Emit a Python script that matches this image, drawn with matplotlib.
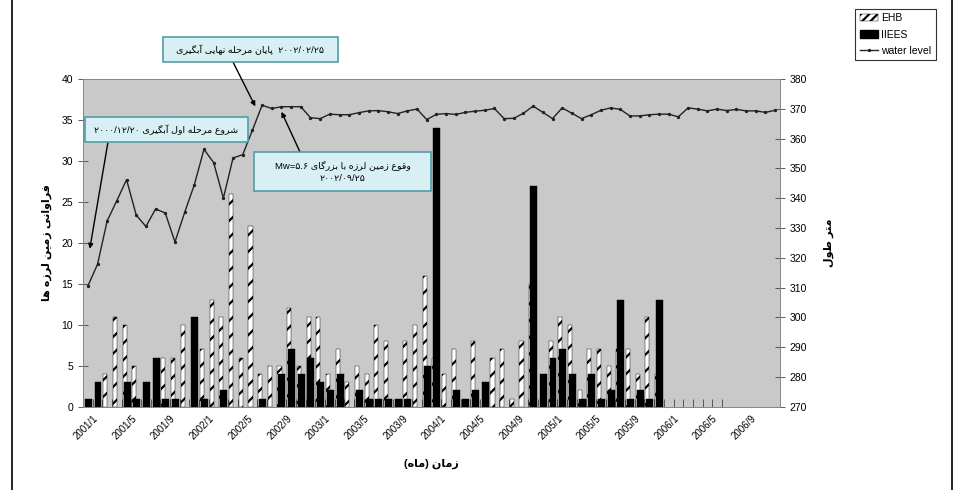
import matplotlib
matplotlib.use('Agg')
import matplotlib.pyplot as plt
import matplotlib.transforms as mtransforms
from matplotlib.patches import Rectangle, Patch
from matplotlib.lines import Line2D

# monthly data, 2001/1 .. 2006/12
n_months = 72
tick_labels = ['2001/1', '2001/5', '2001/9', '2002/1', '2002/5', '2002/9',
               '2003/1', '2003/5', '2003/9', '2004/1', '2004/5', '2004/9',
               '2005/1', '2005/5', '2005/9', '2006/1', '2006/5', '2006/9']

ehb = [0, 0, 4, 11, 10, 5, 0, 0, 6, 6, 10, 0,
       7, 13, 11, 26, 6, 22, 4, 5, 5, 12, 5, 11,
       11, 4, 7, 3, 5, 4, 10, 8, 0, 8, 10, 16,
       6, 4, 7, 0, 8, 0, 6, 7, 1, 8, 15, 0,
       8, 11, 10, 2, 7, 7, 5, 7, 7, 4, 11, 4,
       0, 0, 0, 0, 0, 0, 0, 0, 0, 0, 0, 0]

iiees = [1, 3, 0, 0, 3, 1, 3, 6, 1, 1, 0, 11,
         1, 0, 2, 0, 0, 0, 1, 0, 4, 7, 4, 6,
         3, 2, 4, 0, 2, 1, 1, 1, 1, 1, 0, 5,
         34, 0, 2, 1, 2, 3, 0, 0, 0, 0, 27, 4,
         6, 7, 4, 1, 4, 1, 2, 13, 1, 2, 1, 13,
         0, 0, 0, 0, 0, 0, 0, 0, 0, 0, 0, 0]

water_level = [310.5, 317.8, 332.4, 339.2, 346.2, 334.3, 330.5, 336.4, 335.0, 325.3, 335.2, 344.5,
               356.4, 351.9, 340.0, 353.5, 354.6, 362.8, 371.2, 370.1, 370.7, 370.7, 370.7, 367.0,
               366.7, 368.2, 368.0, 368.0, 368.7, 369.3, 369.4, 369.0, 368.4, 369.3, 369.9, 366.4,
               368.1, 368.4, 368.1, 368.8, 369.2, 369.5, 370.1, 366.7, 366.8, 368.5, 370.9, 368.8,
               366.7, 370.3, 368.5, 366.7, 368.0, 369.5, 370.3, 369.8, 367.6, 367.6, 368.0, 368.2,
               368.2, 367.3, 370.3, 369.9, 369.3, 369.9, 369.4, 369.8, 369.3, 369.3, 368.8, 369.5]

# --- minimal Persian shaping (matplotlib draws glyphs left to right, unjoined) ---
FORMS = {  # isolated, final, initial, medial
    '\u0627': ('\uFE8D', '\uFE8E', None, None),
    '\u0622': ('\uFE81', '\uFE82', None, None),
    '\u0628': ('\uFE8F', '\uFE90', '\uFE91', '\uFE92'),
    '\u067E': ('\uFB56', '\uFB57', '\uFB58', '\uFB59'),
    '\u062A': ('\uFE95', '\uFE96', '\uFE97', '\uFE98'),
    '\u062D': ('\uFEA1', '\uFEA2', '\uFEA3', '\uFEA4'),
    '\u062F': ('\uFEA9', '\uFEAA', None, None),
    '\u0631': ('\uFEAD', '\uFEAE', None, None),
    '\u0632': ('\uFEAF', '\uFEB0', None, None),
    '\u0633': ('\uFEB1', '\uFEB2', '\uFEB3', '\uFEB4'),
    '\u0634': ('\uFEB5', '\uFEB6', '\uFEB7', '\uFEB8'),
    '\u0637': ('\uFEC1', '\uFEC2', '\uFEC3', '\uFEC4'),
    '\u0639': ('\uFEC9', '\uFECA', '\uFECB', '\uFECC'),
    '\u0641': ('\uFED1', '\uFED2', '\uFED3', '\uFED4'),
    '\u0642': ('\uFED5', '\uFED6', '\uFED7', '\uFED8'),
    '\u0644': ('\uFEDD', '\uFEDE', '\uFEDF', '\uFEE0'),
    '\u0645': ('\uFEE1', '\uFEE2', '\uFEE3', '\uFEE4'),
    '\u0646': ('\uFEE5', '\uFEE6', '\uFEE7', '\uFEE8'),
    '\u0647': ('\uFEE9', '\uFEEA', '\uFEEB', '\uFEEC'),
    '\u0648': ('\uFEED', '\uFEEE', None, None),
    '\u06A9': ('\uFB8E', '\uFB8F', '\uFB90', '\uFB91'),
    '\u06AF': ('\uFB92', '\uFB93', '\uFB94', '\uFB95'),
    '\u06CC': ('\uFBFC', '\uFBFD', '\uFBFE', '\uFBFF'),
}
MIRROR = {'(': ')', ')': '('}


def shape_word(w):
    out = []
    for i, ch in enumerate(w):
        if ch not in FORMS:
            out.append(ch)
            continue
        iso, fin, ini, med = FORMS[ch]
        prev = w[i - 1] if i > 0 else ''
        nxt = w[i + 1] if i + 1 < len(w) else ''
        j_prev = prev in FORMS and FORMS[prev][2] is not None
        j_next = nxt in FORMS and ini is not None
        if j_prev and j_next:
            out.append(med)
        elif j_prev:
            out.append(fin)
        elif j_next:
            out.append(ini)
        else:
            out.append(iso)
    return ''.join(out)


def fa(text):
    words = []
    for w in text.split(' '):
        if any(c in FORMS for c in w):
            words.append(''.join(MIRROR.get(c, c) for c in reversed(shape_word(w))))
        else:
            words.append(w)
    return ' '.join(reversed(words))


plt.rcParams['font.family'] = ['Liberation Sans', 'DejaVu Sans']
plt.rcParams['hatch.linewidth'] = 1.6

W, H = 960, 490
fig = plt.figure(figsize=(W / 100, H / 100), dpi=100)
ax = fig.add_axes([83 / W, 1 - 406.7 / H, 697 / W, 327.7 / H])
ax.set_facecolor('#c9c9c9')
ax.set_axisbelow(True)

x = list(range(n_months))
# skip empty months so no outline is left on the axis
ehb_x = [i - 0.2 for i in x if ehb[i] > 0]
ehb_v = [v for v in ehb if v > 0]
iiees_x = [i + 0.05 for i in x if iiees[i] > 0]
iiees_v = [v for v in iiees if v > 0]
ax.bar(ehb_x, ehb_v, width=0.42, color='white', edgecolor='black',
       linewidth=0.3, hatch='//', zorder=2)
ax.bar(iiees_x, iiees_v, width=0.72, color='black', edgecolor='black',
       linewidth=0.3, zorder=3)

ax.set_xlim(-0.5, n_months - 0.5)
ax.set_ylim(0, 40)
ax.set_yticks(range(0, 41, 5))
ax.tick_params(axis='y', direction='inout', length=7, width=0.6, labelsize=7.5,
               colors='#444444', labelcolor='black')
ax.set_xticks(range(0, n_months, 4))
ax.set_xticklabels(tick_labels, rotation=45, ha='right', rotation_mode='anchor', fontsize=7)
ax.tick_params(axis='x', length=0, pad=5)
shift = mtransforms.ScaledTranslation(5 / 100, 0, fig.dpi_scale_trans)
for lab in ax.get_xticklabels():
    lab.set_transform(lab.get_transform() + shift)
ax.set_xticks([k - 0.5 for k in range(1, 67)], minor=True)
ax.tick_params(axis='x', which='minor', direction='in', length=6, width=0.6, colors='#444444')
for s in ax.spines.values():
    s.set_color('#888888')
    s.set_linewidth(0.7)

ax2 = ax.twinx()
ax2.plot(x, water_level, color='#222222', lw=1.0, marker='o', ms=1.4, zorder=4)
ax2.set_ylim(270, 380)
ax2.set_yticks(range(270, 381, 10))
ax2.tick_params(axis='y', direction='inout', length=7, width=0.6, labelsize=7.5,
                colors='#444444', labelcolor='black')
for s in ax2.spines.values():
    s.set_color('#888888')
    s.set_linewidth(0.7)

ax.set_ylabel(fa('فراوانی زمین لرزه ها'), fontsize=8, fontweight='bold', labelpad=7)
ax2.set_ylabel(fa('متر طول'), fontsize=8, fontweight='bold', labelpad=12)
ax.set_xlabel(fa('زمان (ماه)'), fontsize=8, fontweight='bold', labelpad=12)


def fxy(px, py):
    return px / W, 1 - py / H


def callout(x0, y0, x1, y1, text, start, target):
    fig.patches.append(Rectangle(fxy(x0, y1), (x1 - x0) / W, (y1 - y0) / H,
                                 transform=fig.transFigure, facecolor='#d8f0f4',
                                 edgecolor='#4f9ea6', linewidth=1.2, zorder=6))
    fig.text((x0 + x1) / 2 / W, 1 - (y0 + y1) / 2 / H, text, ha='center', va='center',
             fontsize=6.8, zorder=7, linespacing=1.5)
    ax2.annotate('', xy=target, xycoords='data', xytext=fxy(*start),
                 textcoords='figure fraction',
                 arrowprops=dict(arrowstyle='-|>', color='black', lw=1.0,
                                 mutation_scale=7, shrinkA=0, shrinkB=0), zorder=8)


callout(163, 37, 338, 62, fa('پایان مرحله نهایی آبگیری') + '  ۲۰۰۲/۰۲/۲۵',
        (233, 62), (17.3, 370.8))
callout(85, 117, 248, 142, '۲۰۰۰/۱۲/۲۰ ' + fa('شروع مرحله اول آبگیری'),
        (108, 142), (0.2, 323))
callout(254, 152, 431, 191, 'Mw=۵.۶ ' + fa('وقوع زمین لرزه با بزرگای') + '\n۲۰۰۲/۰۹/۲۵',
        (300, 152), (20, 369))

handles = [Patch(facecolor='white', edgecolor='black', hatch='////', linewidth=0.3),
           Patch(facecolor='black', edgecolor='black'),
           Line2D([], [], color='#222222', lw=1.0, marker='o', ms=1.4)]
leg = fig.legend(handles, ['EHB', 'IIEES', 'water level'], loc='upper right',
                 bbox_to_anchor=fxy(941, 4), fontsize=7.5, frameon=True, fancybox=False,
                 edgecolor='black', handlelength=1.8, handletextpad=0.3,
                 borderpad=0.4, labelspacing=0.6)
leg.get_frame().set_linewidth(0.8)

# outer frame of the chart sheet
fig.add_artist(Line2D([12 / W, 12 / W], [0, 1], color='black', lw=1.2))
fig.add_artist(Line2D([952 / W, 952 / W], [0, 1], color='black', lw=1.2))

fig.savefig('out.png', dpi=100)
